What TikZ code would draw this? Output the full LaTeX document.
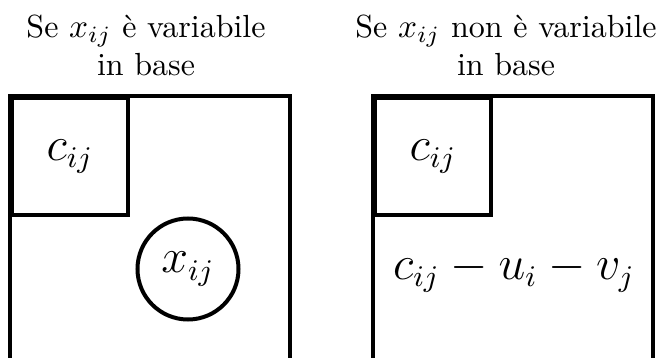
\documentclass[tikz,border=0pt]{standalone}
\usepackage{amsmath}
\usetikzlibrary{positioning}

\begin{document}
\begin{tikzpicture}[x=0.3pt, y=-0.3pt,
  heading/.style={align=center, font=\fontsize{9.6}{11.4}\selectfont},
  frame/.style={very thick},
  costbox/.style={rectangle, draw, very thick, minimum width=34.8pt,
    minimum height=35.1pt, inner sep=0pt, anchor=north west,
    font=\fontsize{13.4}{16}\selectfont},
  basevar/.style={circle, draw, very thick, minimum size=30.3pt,
    inner sep=0pt, font=\fontsize{13.4}{16}\selectfont},
  reduced/.style={font=\fontsize{13.4}{16}\selectfont},
]
\useasboundingbox (0,0) rectangle (656,358);

% left: x_ij in base
\coordinate (l0) at (10,358);
\coordinate (l1) at (10,96);
\coordinate (l2) at (290,96);
\coordinate (l3) at (290,358);
\draw[frame] (l0) -- (l1) -- (l2) -- (l3);
\node[heading] (tl) at (146,45) {Se $x_{ij}$ è variabile\\in base};
\node[costbox] (cl) at (l1) {$c_{ij}$};
\node[basevar] (xl) at (188,269) {$x_{ij}$};

% right: x_ij not in base
\coordinate (r0) at (373,358);
\coordinate (r1) at (373,96);
\coordinate (r2) at (653,96);
\coordinate (r3) at (653,358);
\draw[frame] (r0) -- (r1) -- (r2) -- (r3);
\node[heading] (tr) at (506,45) {Se $x_{ij}$ non è variabile\\in base};
\node[costbox] (cr) at (r1) {$c_{ij}$};
\node[reduced] (dr) at (514,272) {$c_{ij}-u_i-v_j$};

\end{tikzpicture}
\end{document}
